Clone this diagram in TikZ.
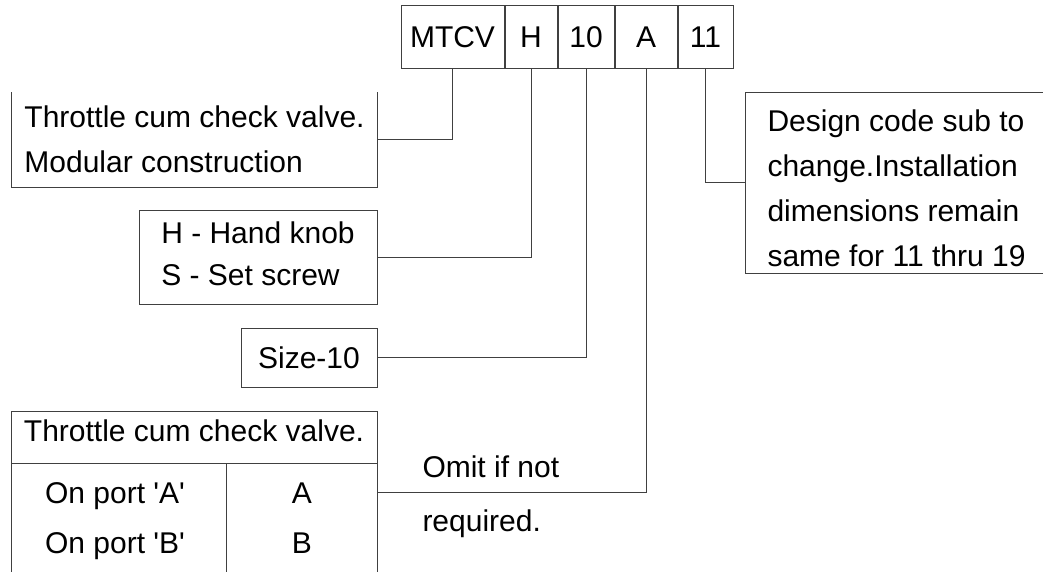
\documentclass[tikz,border=0pt]{standalone}
\usepackage{fontspec}
\setmainfont{Liberation Sans}
\usetikzlibrary{positioning}

\begin{document}
\begin{tikzpicture}%
            [x = 1pt, y = -1pt,
             line width = 1pt,
             font = \fontsize{30}{45}\selectfont,
             leader/.style = {draw = black!75},
             codebox/.style = {draw = black!75, minimum height = 63pt, inner sep = 0pt},
             infobox/.style = {align = left, inner sep = 0pt},
             plain/.style = {inner sep = 0pt, anchor = base}]
            \useasboundingbox (0,0) rectangle (1043,572);

            % ordering code
            \node [codebox, minimum width = 103pt] (mtcv) at (452.5,37.5) {MTCV};
            \node [codebox, minimum width = 52pt, right = 0pt of mtcv] (ctrl) {H};
            \node [codebox, minimum width = 56pt, right = 0pt of ctrl] (size) {10};
            \node [codebox, minimum width = 62pt, right = 0pt of size] (port) {A};
            \node [codebox, minimum width = 55pt, right = 0pt of port] (design) {11};

            % explanations
            \node [infobox, minimum width = 365pt, minimum height = 94pt] (valvebox) at (194.5,140)
                {Throttle cum check valve.\\Modular construction\rule[-2pt]{0pt}{2pt}};
            \draw [leader] (valvebox.north west) -- (valvebox.south west) -- (valvebox.south east) -- (valvebox.north east);

            \node [infobox, draw = black!75, minimum width = 238pt, minimum height = 94pt,
                   font = \fontsize{30}{42}\selectfont] (ctrlbox) at (258,257)
                {H - Hand knob\\S - Set screw\rule[-7pt]{0pt}{7pt}};
            \node [infobox, draw = black!75, minimum width = 136pt, minimum height = 59pt] (sizebox) at (309,357.5) {Size-10};

            \node [infobox, draw = black!75, minimum width = 302pt, minimum height = 180pt, anchor = west,
                   font = \fontsize{30}{45}\selectfont] (designbox) at (745,183)
                {\rule{0pt}{33pt}Design code sub to\\change.Installation\\dimensions remain\\same for 11 thru 19};

            % port table
            \draw [leader] (11,572) -- (11,411) -- (377,411) -- (377,572);
            \draw [leader] (11,463) -- (377,463);
            \draw [leader] (226,463) -- (226,572);
            \node [plain] (thead) at (194,441) {Throttle cum check valve.};
            \node [plain] (rowa) at (115,503) {On port \textquotesingle A\textquotesingle};
            \node [plain] (rowb) at (115,553) {On port \textquotesingle B\textquotesingle};
            \node [plain] (codea) at (302,503) {A};
            \node [plain] (codeb) at (302,553) {B};
            \coordinate (portbox) at (377,492);

            \node [plain, anchor = base west] (omit) at (422,477) {Omit if not};
            \node [plain, anchor = base west] (req) at (422,531) {required.};

            % leaders
            \draw [leader] (mtcv.south) |- (valvebox.east);
            \draw [leader] (ctrl.south) |- (ctrlbox.east);
            \draw [leader] (size.south) |- (sizebox.east);
            \draw [leader] (port.south) |- (portbox);
            \draw [leader] (design.south) |- (designbox.west);
        \end{tikzpicture}
\end{document}
